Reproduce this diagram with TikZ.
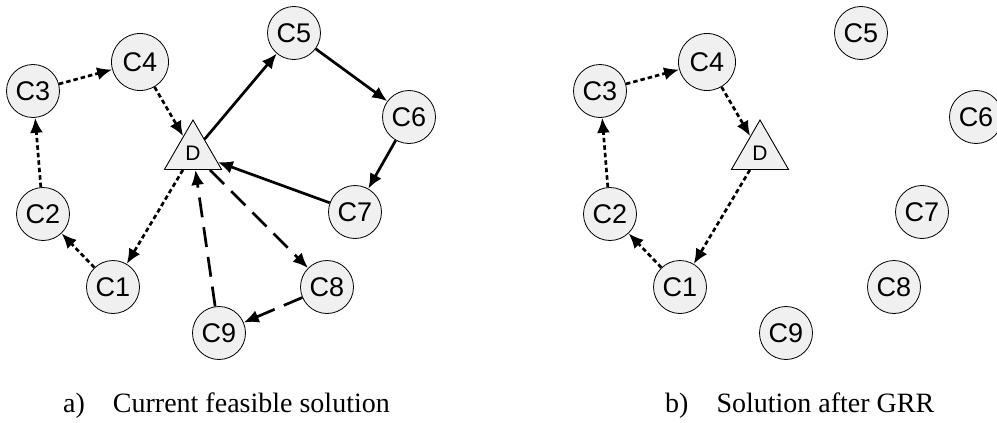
\documentclass[tikz,border=0pt]{standalone}
\usepackage{fontspec}
\setmainfont{Liberation Serif}
\setsansfont{Liberation Sans}
\usetikzlibrary{arrows.meta,shapes.geometric}
\definecolor{CustFill}{RGB}{240,240,240}

\begin{document}
\begin{tikzpicture}[x=1pt, y=-1pt,
        cust/.style={draw, fill=CustFill, circle, line width=0.8pt, inner sep=0pt,
                    minimum size=53pt, font=\sffamily\fontsize{27}{27}\selectfont},
        depot/.style={draw, fill=CustFill, regular polygon, regular polygon sides=3,
                    line width=0.9pt, inner sep=0pt, minimum size=66pt,
                    font=\sffamily\fontsize{21}{21}\selectfont},
        arr/.style={-{Latex[length=15pt, width=13pt]}, line width=2.7pt},
        dotarr/.style={arr, dash pattern=on 4.5pt off 3pt},
        dasharr/.style={arr, dash pattern=on 20pt off 10pt},
        capt/.style={anchor=base west, inner sep=0pt, font=\fontsize{28}{28}\selectfont}
]
    \useasboundingbox (0,0) rectangle (997,423);

    % a) current feasible solution
    \node[cust] (a1) at (113,287) {C1};
    \node[cust] (a2) at (43,214) {C2};
    \node[cust] (a3) at (33,91) {C3};
    \node[cust, minimum size=57pt] (a4) at (140,62) {C4};
    \node[cust] (a5) at (294,33) {C5};
    \node[cust] (a6) at (409,117) {C6};
    \node[cust] (a7) at (355,212) {C7};
    \node[cust] (a8) at (327,287) {C8};
    \node[cust] (a9) at (219,333) {C9};
    \node[depot] (ad) at (193,153) {D};

    \draw[dotarr] (a3) -- (a4);
    \draw[dotarr] (a4) -- (ad);
    \draw[dotarr] (ad) -- (a1);
    \draw[dotarr] (a1) -- (a2);
    \draw[dotarr] (a2) -- (a3);
    \draw[arr] (ad) -- (a5);
    \draw[arr] (a5) -- (a6);
    \draw[arr] (a6) -- (a7);
    \draw[arr] (a7) -- (ad);
    \draw[dasharr] (ad) -- (a8);
    \draw[dasharr] (a8) -- (a9);
    \draw[dasharr] (a9) -- (ad);

    \node[capt] (capa) at (63,412) {a)\quad Current feasible solution};

    % b) solution after GRR
    \begin{scope}[xshift=567pt]
        \node[cust] (b1) at (113,287) {C1};
        \node[cust] (b2) at (43,214) {C2};
        \node[cust] (b3) at (33,91) {C3};
        \node[cust, minimum size=57pt] (b4) at (140,62) {C4};
        \node[cust] (b5) at (294,33) {C5};
        \node[cust] (b6) at (409,117) {C6};
        \node[cust] (b7) at (355,212) {C7};
        \node[cust] (b8) at (327,287) {C8};
        \node[cust] (b9) at (219,333) {C9};
        \node[depot] (bd) at (193,153) {D};

        \draw[dotarr] (b3) -- (b4);
        \draw[dotarr] (b4) -- (bd);
        \draw[dotarr] (bd) -- (b1);
        \draw[dotarr] (b1) -- (b2);
        \draw[dotarr] (b2) -- (b3);

        \node[capt] (capb) at (98,412) {b)\quad Solution after GRR};
    \end{scope}
\end{tikzpicture}
\end{document}
